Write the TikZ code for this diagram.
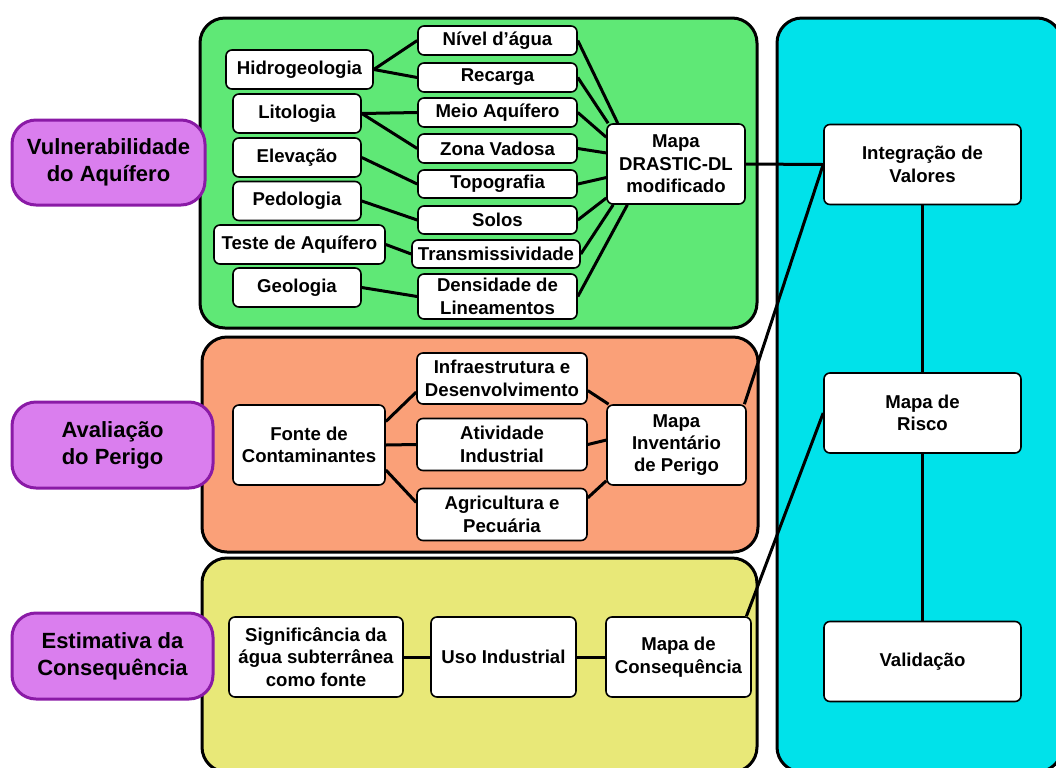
\documentclass[tikz,border=0pt]{standalone}
\usepackage{fontspec}
\setmainfont{Liberation Sans}
\definecolor{verde}{HTML}{5FE876}
\definecolor{laranja}{HTML}{FAA078}
\definecolor{amarelo}{HTML}{E8E878}
\definecolor{ciano}{HTML}{00E2EA}
\definecolor{lilas}{HTML}{DA7EEE}
\definecolor{roxo}{HTML}{8A1AA6}

\begin{document}
\begin{tikzpicture}[x=0.5pt,y=-0.5pt,
    painel/.style={draw=black,line width=1.5pt,rounded corners=12.5pt},
    bloco/.style={draw=black,fill=white,line width=0.8pt,rounded corners=3pt,
      align=center,inner sep=0pt,minimum height=40pt,
      font=\fontsize{9.3}{11.2}\selectfont\bfseries},
    esq/.style={bloco,minimum width=64pt,minimum height=19.5pt},
    dir/.style={bloco,minimum width=79.5pt,minimum height=14.5pt},
    meio/.style={bloco,minimum width=85pt,minimum height=26pt},
    mapa/.style={bloco,minimum width=98.5pt},
    rotulo/.style={draw=roxo,fill=lilas,line width=1.5pt,rounded corners=12pt,
      align=center,inner sep=0pt,minimum width=100.5pt,minimum height=43pt,
      font=\fontsize{11}{13.5}\selectfont\bfseries},
    liga/.style={line width=1.5pt}]
  \useasboundingbox (0,0) rectangle (1056,767);
  % paineis
  \draw[painel,fill=verde] (200,18) rectangle (757,328);
  \draw[painel,fill=laranja] (202,337) rectangle (758,552);
  \draw[painel,fill=amarelo] (202,558) rectangle (757,772);
  \draw[painel,fill=ciano] (777,18) rectangle (1062,772);
  % etapas
  \node[rotulo,minimum width=96.5pt,minimum height=42.5pt] (vuln) at (108.5,162.5) {Vulnerabilidade\\do Aquífero};
  \node[rotulo] (aval) at (112.5,445) {Avaliação\\do Perigo};
  \node[rotulo] (estim) at (112.5,656) {Estimativa da\\Consequência};
  % vulnerabilidade
  \node[esq,minimum width=73.5pt] (hidro) at (299.5,69.5) {Hidrogeologia};
  \node[esq] (lito) at (297,113.5) {Litologia};
  \node[esq] (elev) at (297,157.5) {Elevação};
  \node[esq] (pedo) at (297,201) {Pedologia};
  \node[esq,minimum width=85.5pt] (teste) at (299.5,244.5) {Teste de Aquífero};
  \node[esq] (geo) at (297,287.5) {Geologia};
  \node[dir] (nivel) at (497.5,40.5) {Nível d’água};
  \node[dir] (recarga) at (497.5,77.5) {Recarga};
  \node[dir] (meioaq) at (497.5,112.5) {Meio Aquífero};
  \node[dir] (zona) at (497.5,148.5) {Zona Vadosa};
  \node[dir,minimum height=14pt] (topo) at (497.5,184) {Topografia};
  \node[dir,minimum height=14pt] (solos) at (497.5,220) {Solos};
  \node[dir,minimum width=84pt,minimum height=14pt] (transm) at (496,254) {Transmissividade};
  \node[dir,minimum height=22.5pt] (dens) at (497.5,296.5) {Densidade de\\Lineamentos};
  \node[bloco,minimum width=69pt] (drastic) at (676,164) {Mapa\\DRASTIC-DL\\modificado};
  % perigo
  \node[bloco,minimum width=76pt] (fonte) at (309,445) {Fonte de\\Contaminantes};
  \node[meio,minimum height=25.5pt] (infra) at (502,378.5) {Infraestrutura e\\Desenvolvimento};
  \node[meio] (ativ) at (502,444.5) {Atividade\\Industrial};
  \node[meio] (agri) at (502,514.5) {Agricultura e\\Pecuária};
  \node[bloco,minimum width=69.5pt] (inv) at (676.5,445) {Mapa\\Inventário\\de Perigo};
  % consequencia
  \node[bloco,minimum width=87pt] (signif) at (316,657) {Significância da\\água subterrânea\\como fonte};
  \node[bloco,minimum width=72.5pt] (uso) at (503.5,657) {Uso Industrial};
  \node[bloco,minimum width=72.5pt] (conseq) at (678.5,657) {Mapa de\\Consequência};
  % risco
  \node[mapa] (integ) at (922.5,164.5) {Integração de\\Valores};
  \node[mapa] (risco) at (922.5,413) {Mapa de\\Risco};
  \node[mapa] (valid) at (922.5,661.5) {Validação};
  % ligacoes
  \draw[liga] (hidro.east) -- (nivel.west);
  \draw[liga] (hidro.east) -- (recarga.west);
  \draw[liga] (lito.east) -- (meioaq.west);
  \draw[liga] (lito.east) -- (zona.west);
  \draw[liga] (elev.east) -- (topo.west);
  \draw[liga] (pedo.east) -- (solos.west);
  \draw[liga] (teste.east) -- (transm.west);
  \draw[liga] (geo.east) -- (dens.west);
  \draw[liga] (nivel.east) -- (drastic.145);
  \draw[liga] (recarga.east) -- (drastic.149);
  \draw[liga] (meioaq.east) -- (drastic.159);
  \draw[liga] (zona.east) -- (drastic.171);
  \draw[liga] (topo.east) -- (drastic.191);
  \draw[liga] (solos.east) -- (drastic.206);
  \draw[liga] (transm.east) -- (drastic.213);
  \draw[liga] (dens.east) -- (drastic.220);
  \draw[liga] (fonte.17) -- (infra.189);
  \draw[liga] (fonte.east) -- (ativ.west);
  \draw[liga] (fonte.-18) -- (agri.172);
  \draw[liga] (infra.-8) -- (inv.149);
  \draw[liga] (ativ.east) -- (inv.176);
  \draw[liga] (agri.11) -- (inv.207);
  \draw[liga] (signif.east) -- (uso.west);
  \draw[liga] (uso.east) -- (conseq.west);
  \draw[liga] (drastic.east) -- (integ.west);
  \draw[liga] (integ.west) -- (inv.31);
  \draw[liga] (conseq.31) -- (risco.west);
  \draw[liga] (integ.south) -- (risco.north);
  \draw[liga] (risco.south) -- (valid.north);
\end{tikzpicture}
\end{document}
